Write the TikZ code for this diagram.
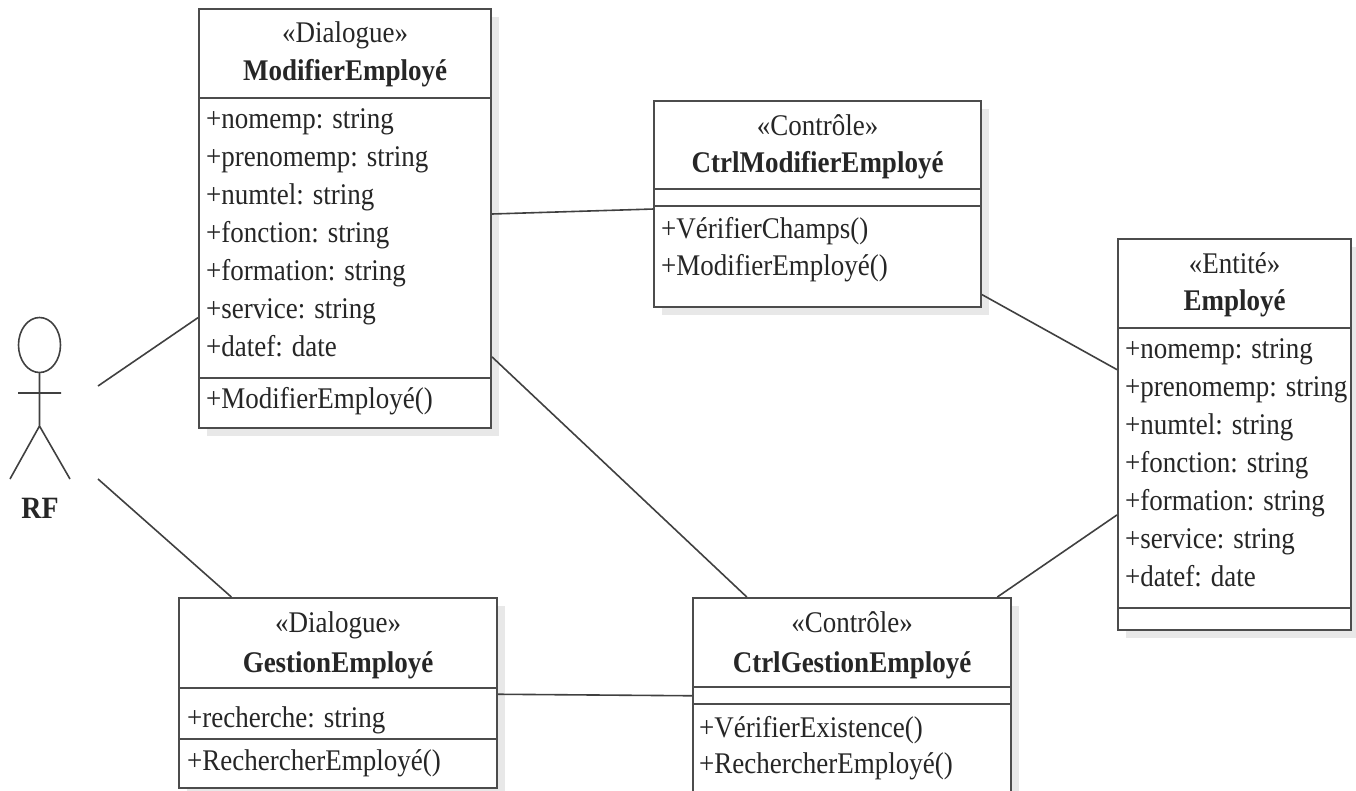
\documentclass[tikz,border=0pt]{standalone}
\usepackage{fontspec}
\setmainfont{Liberation Serif}[FakeStretch=0.9]
\usetikzlibrary{shadows}

\begin{document}
\begin{tikzpicture}[x=1pt,y=-1pt,
    classbox/.style={draw=black!70,line width=2pt,fill=white,
      drop shadow={shadow xshift=8pt,shadow yshift=-8pt,fill=black!9,opacity=1}},
    sepline/.style={draw=black!70,line width=2pt},
    txt/.style={inner sep=0pt,text=black!85,font=\fontsize{30}{38}\selectfont},
    attr/.style={txt,anchor=base west},
    stereo/.style={txt,anchor=base},
    cname/.style={stereo,font=\fontsize{30}{38}\selectfont\bfseries},
    link/.style={draw=black!75,line width=1.6pt}]
  \useasboundingbox (0,0) rectangle (1356,790);
  \clip (0,0) rectangle (1356,790);

  % actor
  \draw[link] (39.5,345) ellipse [x radius=21, y radius=27.5];
  \draw[link] (39.5,372.5) -- (39.5,426) (18,393) -- (61,393)
    (10,479) -- (39.5,426) -- (70,479);
  \path (40,518) node[cname,font=\fontsize{31}{38}\selectfont\bfseries] (rf) {RF};
  \coordinate (rfa) at (98,386);
  \coordinate (rfb) at (98,479);

  % class boxes
  \path
    (345,218.5) node[classbox,minimum width=292pt,minimum height=419pt] (modif) {}
    (817.5,204) node[classbox,minimum width=327pt,minimum height=206pt] (ctrlmodif) {}
    (1234.5,434.5) node[classbox,minimum width=233pt,minimum height=391pt] (employe) {}
    (338,693) node[classbox,minimum width=318pt,minimum height=190pt] (gestion) {}
    (852,697) node[classbox,minimum width=318pt,minimum height=198pt] (ctrlgestion) {};
  \draw[sepline] (modif.west |- 0,98) -- (modif.east |- 0,98);
  \draw[sepline] (modif.west |- 0,378) -- (modif.east |- 0,378);
  \draw[sepline] (ctrlmodif.west |- 0,189) -- (ctrlmodif.east |- 0,189);
  \draw[sepline] (ctrlmodif.west |- 0,206) -- (ctrlmodif.east |- 0,206);
  \draw[sepline] (employe.west |- 0,328) -- (employe.east |- 0,328);
  \draw[sepline] (employe.west |- 0,608) -- (employe.east |- 0,608);
  \draw[sepline] (gestion.west |- 0,688) -- (gestion.east |- 0,688);
  \draw[sepline] (gestion.west |- 0,739) -- (gestion.east |- 0,739);
  \draw[sepline] (ctrlgestion.west |- 0,687) -- (ctrlgestion.east |- 0,687);
  \draw[sepline] (ctrlgestion.west |- 0,704) -- (ctrlgestion.east |- 0,704);

  % ModifierEmployé
  \path
    (345,42) node[stereo] (modifst) {«Dialogue»}
    (345,80) node[cname] (modifnm) {ModifierEmployé}
    (206,128) node[attr] (modifa1) {+nomemp: string}
    (206,166) node[attr] (modifa2) {+prenomemp: string}
    (206,204) node[attr] (modifa3) {+numtel: string}
    (206,242) node[attr] (modifa4) {+fonction: string}
    (206,280) node[attr] (modifa5) {+formation: string}
    (206,318) node[attr] (modifa6) {+service: string}
    (206,356) node[attr] (modifa7) {+datef: date}
    (206,408) node[attr] (modifo1) {+ModifierEmployé()};

  % CtrlModifierEmployé
  \path
    (817.5,135) node[stereo] (ctrlmodifst) {«Contrôle»}
    (817.5,172) node[cname] (ctrlmodifnm) {CtrlModifierEmployé}
    (661,238) node[attr] (ctrlmodifo1) {+VérifierChamps()}
    (661,275) node[attr] (ctrlmodifo2) {+ModifierEmployé()};

  % Employé
  \path
    (1234.5,273) node[stereo] (employest) {«Entité»}
    (1234.5,310) node[cname] (employenm) {Employé}
    (1125,358) node[attr] (employea1) {+nomemp: string}
    (1125,396) node[attr] (employea2) {+prenomemp: string}
    (1125,434) node[attr] (employea3) {+numtel: string}
    (1125,472) node[attr] (employea4) {+fonction: string}
    (1125,510) node[attr] (employea5) {+formation: string}
    (1125,548) node[attr] (employea6) {+service: string}
    (1125,586) node[attr] (employea7) {+datef: date};

  % GestionEmployé
  \path
    (338,632) node[stereo] (gestionst) {«Dialogue»}
    (338,672) node[cname] (gestionnm) {GestionEmployé}
    (187,727) node[attr] (gestiona1) {+recherche: string}
    (187,770) node[attr] (gestiono1) {+RechercherEmployé()};

  % CtrlGestionEmployé
  \path
    (852,632) node[stereo] (ctrlgestionst) {«Contrôle»}
    (852,672) node[cname] (ctrlgestionnm) {CtrlGestionEmployé}
    (699,737) node[attr] (ctrlgestiono1) {+VérifierExistence()}
    (699,773) node[attr] (ctrlgestiono2) {+RechercherEmployé()};

  \begin{scope}[link]
    \draw (rfa) to (modif.214.3);
    \draw (rfb) to (gestion.138.7);
    \draw (modif) to (ctrlmodif);
    \draw (ctrlmodif) to (employe);
    \draw (modif) to (ctrlgestion);
    \draw (employe) to (ctrlgestion);
    \draw (gestion) to (ctrlgestion);
  \end{scope}
\end{tikzpicture}
\end{document}
